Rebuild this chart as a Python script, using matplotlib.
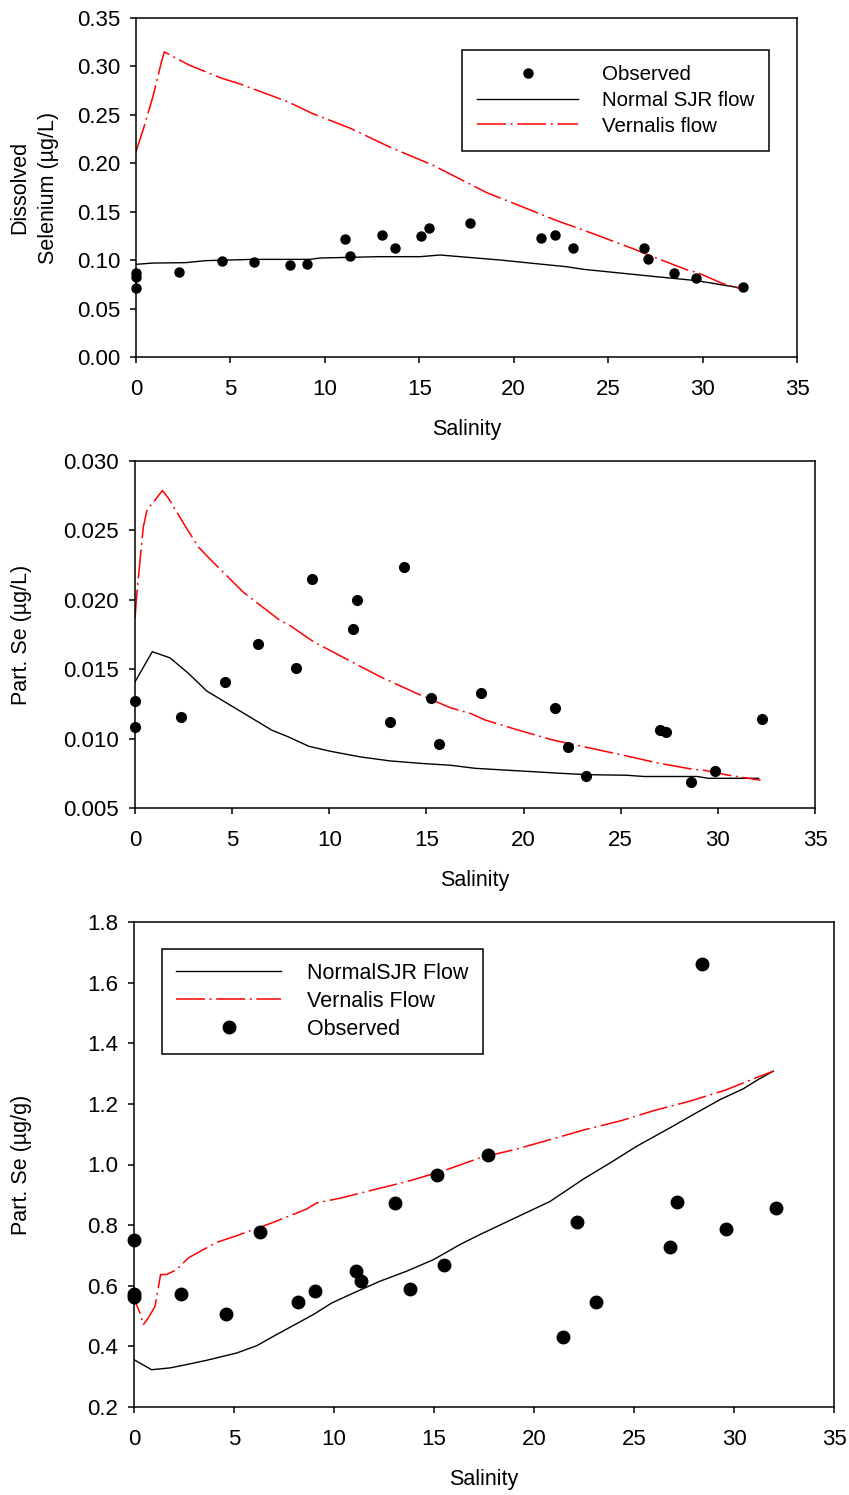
import matplotlib
matplotlib.use("Agg")
import matplotlib.pyplot as plt

plt.rcParams['font.family'] = ['Liberation Sans', 'DejaVu Sans']

# ---------------- Panel 1: Dissolved selenium ----------------
obs1_sal = [0.0, 0.0, 0.0, 2.3, 4.57, 6.23, 8.16, 9.06, 11.08, 11.32, 13.0, 13.74,
            15.1, 15.53, 17.68, 21.45, 22.19, 23.12, 26.89, 27.13, 28.49, 29.66, 32.15]
obs1_se = [0.0864, 0.0822, 0.071, 0.088, 0.0995, 0.0977, 0.0946, 0.0956, 0.122, 0.104,
           0.1255, 0.1125, 0.125, 0.1335, 0.1386, 0.1225, 0.1256, 0.1125, 0.1125, 0.101,
           0.0864, 0.0819, 0.072]
norm1_sal = [0, 0.9, 2.6, 3.7, 6.2, 9.2, 9.75, 12.9, 15.05, 16.1, 19.3, 20.35, 22.8,
             23.7, 27.2, 29.7, 32.1]
norm1_se = [0.0957, 0.097, 0.0974, 0.0995, 0.1008, 0.1008, 0.1022, 0.1036, 0.1036,
            0.1053, 0.1001, 0.098, 0.0932, 0.0905, 0.0836, 0.0788, 0.071]
vern1_sal = [0, 0.4, 0.92, 1.35, 1.5, 2.8, 4.55, 5.42, 8.03, 9.33, 11.37, 13.4, 15.7,
             18.58, 20.44, 22.2, 23.97, 25.65, 26.27, 27.45, 29.2, 29.75, 31.04, 32.1]
vern1_se = [0.212, 0.236, 0.2705, 0.305, 0.315, 0.3015, 0.2877, 0.2825, 0.2636, 0.2515,
            0.236, 0.2171, 0.1982, 0.1696, 0.1552, 0.1414, 0.129, 0.1167, 0.1122,
            0.1029, 0.0898, 0.087, 0.076, 0.070]

# ---------------- Panel 2: Particulate Se (ug/L) ----------------
obs2_sal = [0, 0, 2.39, 4.64, 6.32, 8.28, 9.12, 11.2, 11.41, 13.14, 13.87, 15.24, 15.65,
            17.8, 21.6, 22.28, 23.23, 27.0, 27.34, 28.6, 29.85, 32.28]
obs2_se = [0.01268, 0.01084, 0.01154, 0.01405, 0.0168, 0.0151, 0.0215, 0.0179, 0.01999,
           0.01118, 0.02237, 0.01292, 0.0096, 0.01325, 0.01224, 0.00936, 0.00734,
           0.01063, 0.01051, 0.00688, 0.00767, 0.01142]
norm2_sal = [0, 0.89, 1.8, 2.75, 3.7, 5.33, 7.04, 7.9, 8.94, 10.05, 11.6, 13.14, 14.86,
             16.24, 17.5, 21.9, 23.3, 25.3, 26.2, 28.95, 29.5, 32.1]
norm2_se = [0.01409, 0.01626, 0.01582, 0.0147, 0.01342, 0.01205, 0.01061, 0.01012,
            0.00945, 0.00909, 0.00868, 0.00839, 0.0082, 0.00808, 0.00786, 0.0075,
            0.0074, 0.00736, 0.00727, 0.00727, 0.00714, 0.00714]
vern2_sal = [0, 0.09, 0.26, 0.43, 0.63, 0.91, 1.41, 1.72, 2.58, 3.27, 3.87, 5.58, 7.39,
             7.99, 9.19, 10.91, 12.63, 14.43, 16.24, 17.27, 18.04, 19.85, 21.56, 23.28,
             25.14, 26.89, 28.7, 29.3, 30.4, 32.2]
vern2_se = [0.01866, 0.02035, 0.02287, 0.02527, 0.02653, 0.02696, 0.02787, 0.02732,
            0.02532, 0.02379, 0.02292, 0.02054, 0.01859, 0.01813, 0.01698, 0.01571,
            0.01445, 0.0133, 0.01222, 0.01181, 0.01133, 0.01056, 0.00988, 0.00936,
            0.0088, 0.00825, 0.00779, 0.00772, 0.0074, 0.007]

# ---------------- Panel 3: Particulate Se (ug/g) ----------------
obs3_sal = [0, 0, 0, 2.37, 4.6, 6.28, 8.22, 9.05, 11.12, 11.33, 13.05, 13.78, 15.13,
            15.52, 17.72, 21.47, 22.13, 23.08, 26.8, 27.13, 28.4, 29.6, 32.1]
obs3_se = [0.75, 0.572, 0.562, 0.574, 0.508, 0.776, 0.545, 0.582, 0.65, 0.616, 0.873,
           0.589, 0.967, 0.67, 1.032, 0.43, 0.81, 0.545, 0.727, 0.875, 1.662, 0.788, 0.857]
norm3_sal = [0, 0.88, 1.8, 2.63, 3.63, 5.13, 6.13, 7.13, 8.05, 8.97, 9.88, 10.97, 12.3,
             13.63, 14.97, 16.3, 17.3, 19.0, 20.8, 22.47, 23.8, 25.13, 26.8, 27.97, 29.3,
             30.47, 31.2, 31.97]
norm3_se = [0.356, 0.323, 0.329, 0.34, 0.354, 0.378, 0.402, 0.439, 0.472, 0.505, 0.543,
            0.576, 0.615, 0.648, 0.686, 0.736, 0.769, 0.822, 0.878, 0.952, 1.005, 1.06,
            1.121, 1.165, 1.214, 1.25, 1.28, 1.308]
vern3_sal = [0, 0.05, 0.3, 0.47, 0.72, 1.05, 1.33, 1.63, 2.13, 2.72, 3.38, 4.13, 5.13,
             6.88, 8.63, 9.13, 10.38, 12.13, 13.05, 13.88, 15.55, 17.3, 19.13, 20.8,
             22.55, 24.38, 26.05, 27.8, 29.55, 31.22, 31.97]
vern3_se = [0.6, 0.549, 0.51, 0.472, 0.494, 0.532, 0.637, 0.637, 0.653, 0.692, 0.716,
            0.743, 0.765, 0.807, 0.853, 0.873, 0.89, 0.919, 0.934, 0.948, 0.981, 1.022,
            1.051, 1.082, 1.115, 1.145, 1.179, 1.209, 1.245, 1.289, 1.308]

x_ticks = [0, 5, 10, 15, 20, 25, 30, 35]
y1_ticks = [0.00, 0.05, 0.10, 0.15, 0.20, 0.25, 0.30, 0.35]
y2_ticks = [0.005, 0.010, 0.015, 0.020, 0.025, 0.030]
y3_ticks = [0.2, 0.4, 0.6, 0.8, 1.0, 1.2, 1.4, 1.6, 1.8]

W, H = 849, 1495
fig = plt.figure(figsize=(W / 100, H / 100), dpi=100)

RED_DASH = (0, (19, 3.0, 1.3, 3.0))
TICK_FS = 16
LAB_FS = 15.5


def make_ax(px_left, px_right, px_top, px_bottom):
    return fig.add_axes([px_left / W, 1 - px_bottom / H,
                         (px_right - px_left) / W, (px_bottom - px_top) / H])


def style(ax, yticks, yfmt, ylim, ylabel, px_h, px_w, ylab_x_px):
    ax.set_xlim(0, 35)
    ax.set_ylim(*ylim)
    ax.set_xticks(x_ticks)
    ax.set_xticklabels([str(t) for t in x_ticks])
    ax.set_yticks(yticks)
    ax.set_yticklabels([yfmt.format(t) for t in yticks])
    for s in ax.spines.values():
        s.set_linewidth(1.1)
    ax.tick_params(axis='both', direction='out', length=4.5, width=1.1,
                   labelsize=TICK_FS, top=False, right=False)
    ax.tick_params(axis='x', pad=11)
    ax.tick_params(axis='y', pad=7)
    ax.set_xlabel('Salinity', fontsize=LAB_FS, va='center')
    ax.xaxis.set_label_coords(0.5, -72 / px_h)
    ax.set_ylabel(ylabel, fontsize=LAB_FS, va='center', multialignment='center',
                  linespacing=1.45)
    ax.yaxis.set_label_coords(ylab_x_px / px_w, 0.5)


# Panel 1
ax1 = make_ax(136, 797, 18, 357)
l1n, = ax1.plot(norm1_sal, norm1_se, color='black', lw=1.0)
l1v, = ax1.plot(vern1_sal, vern1_se, color='#ff0000', lw=1.1, linestyle=RED_DASH)
l1o, = ax1.plot(obs1_sal, obs1_se, 'o', color='black', ms=6.5, clip_on=False, zorder=5)
style(ax1, y1_ticks, '{:.2f}', (0, 0.35), 'Dissolved\nSelenium (\u00b5g/L)', 339, 661, -102)
leg1 = ax1.legend([l1o, l1n, l1v], ['Observed', 'Normal SJR flow', 'Vernalis flow'],
                  loc='upper left', bbox_to_anchor=((462 - 136) / 661, (357 - 50) / 339),
                  fontsize=14.8, frameon=True, fancybox=False, framealpha=1,
                  edgecolor='black', borderpad=0.75, handlelength=4.9,
                  handletextpad=1.15, labelspacing=0.32, numpoints=1,
                  borderaxespad=0)
leg1.get_frame().set_linewidth(1.1)

# Panel 2
ax2 = make_ax(135, 815, 461, 808)
ax2.plot(norm2_sal, norm2_se, color='black', lw=1.0)
ax2.plot(vern2_sal, vern2_se, color='#ff0000', lw=1.1, linestyle=RED_DASH)
ax2.plot(obs2_sal, obs2_se, 'o', color='black', ms=7, clip_on=False, zorder=5)
style(ax2, y2_ticks, '{:.3f}', (0.005, 0.030), 'Part. Se (\u00b5g/L)', 347, 680, -113)

# Panel 3
ax3 = make_ax(134, 834, 922, 1407)
l3n, = ax3.plot(norm3_sal, norm3_se, color='black', lw=1.0)
l3v, = ax3.plot(vern3_sal, vern3_se, color='#ff0000', lw=1.1, linestyle=RED_DASH)
l3o, = ax3.plot(obs3_sal, obs3_se, 'o', color='black', ms=9, clip_on=False, zorder=5)
style(ax3, y3_ticks, '{:.1f}', (0.2, 1.8), 'Part. Se (\u00b5g/g)', 485, 700, -112)
leg3 = ax3.legend([l3n, l3v, l3o], ['NormalSJR Flow', 'Vernalis Flow', 'Observed'],
                  loc='upper left', bbox_to_anchor=((162 - 134) / 700, (1407 - 949) / 485),
                  fontsize=15.5, frameon=True, fancybox=False, framealpha=1,
                  edgecolor='black', borderpad=0.65, handlelength=4.9,
                  handletextpad=1.2, labelspacing=0.32, numpoints=1,
                  borderaxespad=0)
leg3.get_frame().set_linewidth(1.1)

fig.savefig('out.png', dpi=100)
